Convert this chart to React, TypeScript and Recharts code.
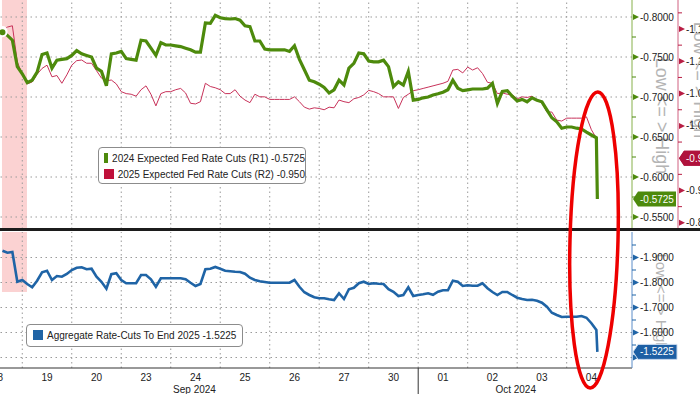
import React from 'react';
import { LineChart, Line, XAxis, YAxis, ReferenceLine, ReferenceArea } from 'recharts';

// trading-day clock: 0 = open of Sep 18, 1 = Sep 19, ... 12 = Oct 4
const time = [
  0.6, 0.7, 0.8, 0.9, 1.0, 1.1, 1.2, 1.3, 1.4, 1.5, 1.6, 1.7, 1.8, 1.9, 2.0, 2.1, 2.2, 2.3, 2.4, 2.5,
  2.6, 2.7, 2.8, 2.9, 3.0, 3.1, 3.2, 3.3, 3.4, 3.5, 3.6, 3.7, 3.8, 3.9, 4.0, 4.1, 4.2, 4.3, 4.4, 4.5,
  4.6, 4.7, 4.8, 4.9, 5.0, 5.1, 5.2, 5.3, 5.4, 5.5, 5.6, 5.7, 5.8, 5.9, 6.0, 6.1, 6.2, 6.3, 6.4, 6.5,
  6.6, 6.7, 6.8, 6.9, 7.0, 7.1, 7.2, 7.3, 7.4, 7.5, 7.6, 7.7, 7.8, 7.9, 8.0, 8.1, 8.2, 8.3, 8.4, 8.5,
  8.6, 8.7, 8.8, 8.9, 9.0, 9.1, 9.2, 9.3, 9.4, 9.5, 9.6, 9.7, 9.8, 9.9, 10.0, 10.1, 10.2, 10.3, 10.4, 10.5,
  10.6, 10.7, 10.8, 10.9, 11.0, 11.1, 11.2, 11.3, 11.4, 11.5, 11.6, 11.7, 11.8, 11.9, 12.0, 12.1, 12.2, 12.3, 12.4, 12.5,
  12.6, 12.62,
];

const cuts2024 = [
  -0.781, -0.777, -0.771, -0.738, -0.729, -0.718, -0.721, -0.731, -0.753, -0.755, -0.736, -0.746, -0.747, -0.748, -0.752, -0.758, -0.754, -0.752, -0.75, -0.736,
  -0.732, -0.714, -0.754, -0.755, -0.757, -0.748, -0.747, -0.746, -0.771, -0.77, -0.761, -0.752, -0.768, -0.765, -0.765, -0.764, -0.763, -0.761, -0.759, -0.756,
  -0.756, -0.7925, -0.792, -0.802, -0.799, -0.798, -0.7975, -0.798, -0.796, -0.789, -0.788, -0.77, -0.77, -0.76, -0.759, -0.759, -0.759, -0.759, -0.757, -0.764,
  -0.747, -0.734, -0.721, -0.719, -0.716, -0.712, -0.705, -0.709, -0.721, -0.715, -0.736, -0.742, -0.755, -0.754, -0.745, -0.744, -0.744, -0.746, -0.738, -0.713,
  -0.719, -0.715, -0.732, -0.696, -0.697, -0.699, -0.7, -0.7025, -0.704, -0.706, -0.709, -0.721, -0.711, -0.708, -0.709, -0.71, -0.71, -0.71, -0.711, -0.717,
  -0.692, -0.707, -0.708, -0.701, -0.695, -0.697, -0.694, -0.699, -0.696, -0.694, -0.684, -0.674, -0.669, -0.661, -0.6625, -0.6625, -0.661, -0.66, -0.656, -0.6525,
  -0.649, -0.5725,
];

const cuts2025 = [
  -1.147, -1.153, -1.155, -1.099, -1.08, -1.065, -1.068, -1.08, -1.089, -1.094, -1.076, -1.078, -1.066, -1.079, -1.094, -1.101, -1.102, -1.097, -1.097, -1.0855,
  -1.074, -1.07, -1.071, -1.065, -1.053, -1.05, -1.049, -1.046, -1.056, -1.062, -1.049, -1.031, -1.05, -1.053, -1.053, -1.056, -1.058, -1.051, -1.035, -1.034,
  -1.0375, -1.066, -1.061, -1.059, -1.056, -1.05, -1.05, -1.056, -1.046, -1.04, -1.036, -1.049, -1.045, -1.045, -1.041, -1.041, -1.041, -1.041, -1.041, -1.045,
  -1.0375, -1.029, -1.026, -1.028, -1.027, -1.025, -1.029, -1.028, -1.04, -1.0375, -1.036, -1.042, -1.044, -1.048, -1.055, -1.053, -1.05, -1.045, -1.045, -1.045,
  -1.027, -1.044, -1.049, -1.0545, -1.056, -1.058, -1.06, -1.062, -1.064, -1.066, -1.069, -1.0865, -1.0875, -1.082, -1.091, -1.0865, -1.09, -1.081, -1.0675, -1.066,
  -1.05, -1.051, -1.049, -1.048, -1.042, -1.045, -1.044, -1.046, -1.04, -1.0355, -1.0215, -1.0215, -1.009, -1.0075, -1.012, -1.012, -1.012, -1.012, -1.014, -0.994,
  -0.981, -0.95,
];

const aggregate = [
  -1.927, -1.919, -1.922, -1.803, -1.81, -1.794, -1.781, -1.807, -1.841, -1.847, -1.81, -1.826, -1.823, -1.834, -1.85, -1.859, -1.861, -1.853, -1.855, -1.823,
  -1.803, -1.775, -1.833, -1.837, -1.81, -1.797, -1.797, -1.797, -1.83, -1.83, -1.813, -1.783, -1.817, -1.817, -1.817, -1.817, -1.817, -1.813, -1.799, -1.786,
  -1.794, -1.853, -1.855, -1.862, -1.855, -1.847, -1.845, -1.843, -1.842, -1.835, -1.819, -1.81, -1.805, -1.802, -1.799, -1.799, -1.799, -1.799, -1.799, -1.81,
  -1.783, -1.761, -1.75, -1.741, -1.737, -1.737, -1.733, -1.73, -1.757, -1.734, -1.773, -1.779, -1.797, -1.803, -1.794, -1.797, -1.795, -1.794, -1.773, -1.763,
  -1.746, -1.75, -1.781, -1.746, -1.75, -1.753, -1.757, -1.751, -1.763, -1.769, -1.769, -1.807, -1.803, -1.786, -1.789, -1.787, -1.787, -1.797, -1.777, -1.762,
  -1.75, -1.762, -1.762, -1.75, -1.739, -1.734, -1.73, -1.731, -1.727, -1.719, -1.703, -1.679, -1.67, -1.662, -1.663, -1.663, -1.663, -1.666, -1.659, -1.637,
  -1.61, -1.5225,
];

const dayLabels = ['18', '19', '20', '23', '24', '25', '26', '27', '30', '01', '02', '03', '04'];
const dayTicks = [0.55, 1.5, 2.5, 3.5, 4.5, 5.5, 6.5, 7.5, 8.5, 9.5, 10.5, 11.5, 12.5];
const dayBreaks = [1, 2, 3, 4, 5, 6, 7, 8, 9, 10, 11, 12];
const monthLabels = ['Sep 2024', 'Oct 2024'];
const monthTicks = [4.48, 10.97];
const monthBreak = 9;
const eventWindow = [0.59, 1.095];

const r1Major = [-0.8, -0.75, -0.7, -0.65, -0.6, -0.55];
const r1Minor = [-0.775, -0.725, -0.675, -0.625, -0.575];
const r2Major = [-1.15, -1.1, -1.05, -1.0, -0.95, -0.9, -0.85];
const r2Minor = [-1.175, -1.125, -1.075, -1.025, -0.975, -0.925, -0.875];
const aggMajor = [-1.9, -1.8, -1.7, -1.6];
const aggHidden = [-1.5]; // label sits under the last-value badge
const aggMinor = [-1.95, -1.85, -1.75, -1.65, -1.55];

const GREEN = '#4d8a0c';
const RED = '#c8325a';
const BLUE = '#1f64a6';
const GRID = '#9a9a9a';
const FONT = "'Liberation Sans', Arial, sans-serif";

const rows = time.map((t, i) => ({ t, g: cuts2024[i], r: cuts2025[i], b: aggregate[i] }));
const last = (a: number[]) => a[a.length - 1];

const same = (a: number, b: number) => Math.abs(a - b) < 1e-9;

function axisTick(
  color: string,
  majors: number[],
  badge: { value: number; label: string; fill: string; stroke?: string; width: number },
  markOnly: number[] = []
) {
  return (props: any) => {
    const { x, y, payload } = props;
    const v = payload.value;
    if (same(v, badge.value)) {
      const w = badge.width;
      return (
        <g>
          <path
            d={`M${x + 1},${y} L${x + 6},${y - 7.5} L${x + w},${y - 7.5} L${x + w},${y + 7.5} L${x + 6},${y + 7.5} Z`}
            fill={badge.fill}
            stroke={badge.stroke || 'none'}
          />
          <text x={x + 8} y={y + 3.5} fontSize={10} fill="#fff" fontFamily={FONT}>{badge.label}</text>
        </g>
      );
    }
    if (markOnly.some((m) => same(m, v))) {
      return <path d={`M${x + 1},${y - 3} L${x + 7},${y} L${x + 1},${y + 3} Z`} fill={color} />;
    }
    if (majors.some((m) => same(m, v))) {
      return (
        <g>
          <path d={`M${x + 1},${y - 3} L${x + 7},${y} L${x + 1},${y + 3} Z`} fill={color} />
          <text x={x + 8} y={y + 3.5} fontSize={10} fill="#222" fontFamily={FONT}>{v.toFixed(4)}</text>
        </g>
      );
    }
    return <line x1={x} x2={x + 4} y1={y} y2={y} stroke={color} />;
  };
}

const DateTick = (props: any) => {
  const { x, y, payload } = props;
  const v = payload.value;
  const mi = monthTicks.findIndex((m) => same(m, v));
  if (mi >= 0) {
    return <text x={x} y={y + 24.5} textAnchor="middle" fontSize={10} fill="#222" fontFamily={FONT}>{monthLabels[mi]}</text>;
  }
  if (same(v, monthBreak)) return <line x1={x} x2={x} y1={y} y2={y + 26} stroke="#333" />;
  const di = dayTicks.findIndex((d) => same(d, v));
  return (
    <text x={x + (di === 0 ? -2.5 : 0)} y={y + 12.5} textAnchor="middle" fontSize={10} fill="#222" fontFamily={FONT}>
      {dayLabels[di]}
    </text>
  );
};

const legendBox: React.CSSProperties = {
  position: 'absolute',
  background: '#fff',
  border: '1px solid #8c8c8c',
  borderRadius: 4,
  fontFamily: FONT,
  fontSize: 10,
  color: '#222',
  boxSizing: 'border-box',
};

const LegendRow = ({ color, text }: { color: string; text: string }) => (
  <div style={{ display: 'flex', alignItems: 'center', height: 16, whiteSpace: 'nowrap' }}>
    <span style={{ width: 10, height: 10, background: color, marginRight: 4, display: 'inline-block' }} />
    <span>{text}</span>
  </div>
);

export default function App() {
  const xDomain: [number, number] = [0.55, 13.32];
  return (
    <div style={{ position: 'absolute', left: 0, top: 0, width: 700, height: 394, overflow: 'hidden', background: '#fff', fontFamily: FONT }}>
      {/* direction hints behind the axes */}
      <svg width={700} height={394} style={{ position: 'absolute', left: 0, top: 0 }}>
        <g fill="#b4b4b4" fontSize={18} fontFamily={FONT}>
          <text transform="translate(656,116) rotate(90)" textAnchor="middle">Low &lt;= &gt; High</text>
          <text transform="translate(694,80) rotate(90)" textAnchor="middle">Low &lt;= &gt; High</text>
        </g>
        <text transform="translate(656,302) rotate(90)" textAnchor="middle" fill="#b4b4b4" fontSize={15} fontFamily={FONT}>
          Low &lt;= &gt; High
        </text>
      </svg>

      <div style={{ position: 'absolute', left: 0, top: 0 }}>
        <LineChart width={700} height={229} data={rows} margin={{ top: 0, right: 0, left: 0, bottom: 0 }}>
          <ReferenceArea yAxisId="r1" x1={eventWindow[0]} x2={eventWindow[1]} fill="#fbd2d2" fillOpacity={1} stroke="none" ifOverflow="hidden" />
          {dayBreaks.map((d) => (
            <ReferenceLine key={'v' + d} yAxisId="r1" x={d} stroke={GRID} strokeDasharray="1.5 3" />
          ))}
          {r1Major.map((v) => (
            <ReferenceLine key={'h' + v} yAxisId="r1" y={v} stroke={GRID} strokeDasharray="1.5 3.5" />
          ))}
          <XAxis type="number" dataKey="t" domain={xDomain} allowDataOverflow hide />
          <YAxis
            yAxisId="r1"
            orientation="right"
            width={46}
            reversed
            domain={[-0.82125, -0.535]}
            allowDataOverflow
            ticks={[...r1Minor, ...r1Major, last(cuts2024)]}
            interval={0}
            tickLine={false}
            tickSize={0}
            tickMargin={0}
            axisLine={{ stroke: '#86b04a' }}
            tick={axisTick(GREEN, r1Major, { value: last(cuts2024), label: '-0.5725', fill: GREEN, width: 44 })}
          />
          <YAxis
            yAxisId="r2"
            orientation="right"
            width={22}
            reversed
            domain={[-1.1949, -0.8404]}
            allowDataOverflow
            ticks={[...r2Minor, ...r2Major, last(cuts2025)]}
            interval={0}
            tickLine={false}
            tickSize={0}
            tickMargin={0}
            axisLine={{ stroke: '#d06080' }}
            tick={axisTick('#b81e44', r2Major, { value: last(cuts2025), label: '-0.950', fill: '#b0123c', width: 44 })}
          />
          <Line yAxisId="r2" dataKey="r" type="linear" stroke={RED} strokeWidth={1} dot={false} isAnimationActive={false} />
          <Line yAxisId="r1" dataKey="g" type="linear" stroke={GREEN} strokeWidth={3.2} dot={false} isAnimationActive={false} />
        </LineChart>
      </div>

      <div style={{ position: 'absolute', left: 0, top: 230 }}>
        <LineChart width={700} height={164} data={rows} margin={{ top: 2, right: 0, left: 0, bottom: 0 }}>
          <ReferenceArea yAxisId="b" x1={eventWindow[0]} x2={eventWindow[1]} y1={-2.002} y2={-1.762} fill="#fbd2d2" fillOpacity={1} stroke="none" ifOverflow="hidden" />
          {dayBreaks.map((d) => (
            <ReferenceLine key={'v' + d} yAxisId="b" x={d} stroke={GRID} strokeDasharray="1.5 3" />
          ))}
          {[...aggMajor, ...aggHidden].map((v) => (
            <ReferenceLine key={'h' + v} yAxisId="b" y={v} stroke={GRID} strokeDasharray="1.5 3.5" />
          ))}
          <XAxis
            type="number"
            dataKey="t"
            domain={xDomain}
            allowDataOverflow
            ticks={[...dayTicks, monthBreak, ...monthTicks]}
            interval={0}
            tickLine={false}
            tickSize={0}
            tickMargin={0}
            height={26}
            axisLine={{ stroke: '#333' }}
            tick={DateTick}
          />
          <YAxis
            yAxisId="b"
            orientation="right"
            width={68}
            reversed
            domain={[-2.002, -1.458]}
            allowDataOverflow
            ticks={[...aggMinor, ...aggMajor, ...aggHidden, last(aggregate)]}
            interval={0}
            tickLine={false}
            tickSize={0}
            tickMargin={0}
            axisLine={{ stroke: '#5a8cc8' }}
            tick={axisTick(BLUE, aggMajor, { value: last(aggregate), label: '-1.5225', fill: '#1d5fa4', stroke: '#cddcee', width: 45 }, aggHidden)}
          />
          <Line yAxisId="b" dataKey="b" type="linear" stroke={BLUE} strokeWidth={2.6} dot={false} isAnimationActive={false} />
        </LineChart>
      </div>

      {/* panel separator */}
      <div style={{ position: 'absolute', left: 0, top: 228, width: 700, height: 3, background: '#1c1c1c' }} />

      <div style={{ ...legendBox, left: 98, top: 147, width: 208, height: 37, padding: '2px 0 0 5px' }}>
        <LegendRow color={GREEN} text="2024 Expected Fed Rate Cuts (R1) -0.5725" />
        <LegendRow color="#c0103a" text="2025 Expected Fed Rate Cuts (R2) -0.950" />
      </div>
      <div style={{ ...legendBox, left: 26, top: 324, width: 217, height: 23, padding: '2px 0 0 6px' }}>
        <LegendRow color={BLUE} text="Aggregate Rate-Cuts To End 2025 -1.5225" />
      </div>

      {/* hand-drawn highlight */}
      <svg width={700} height={394} style={{ position: 'absolute', left: 0, top: 0, pointerEvents: 'none' }}>
        <ellipse cx={594} cy={240} rx={24} ry={148} transform="rotate(1.5 594 240)" fill="none" stroke="#ee0000" strokeWidth={3.5} />
      </svg>
    </div>
  );
}
